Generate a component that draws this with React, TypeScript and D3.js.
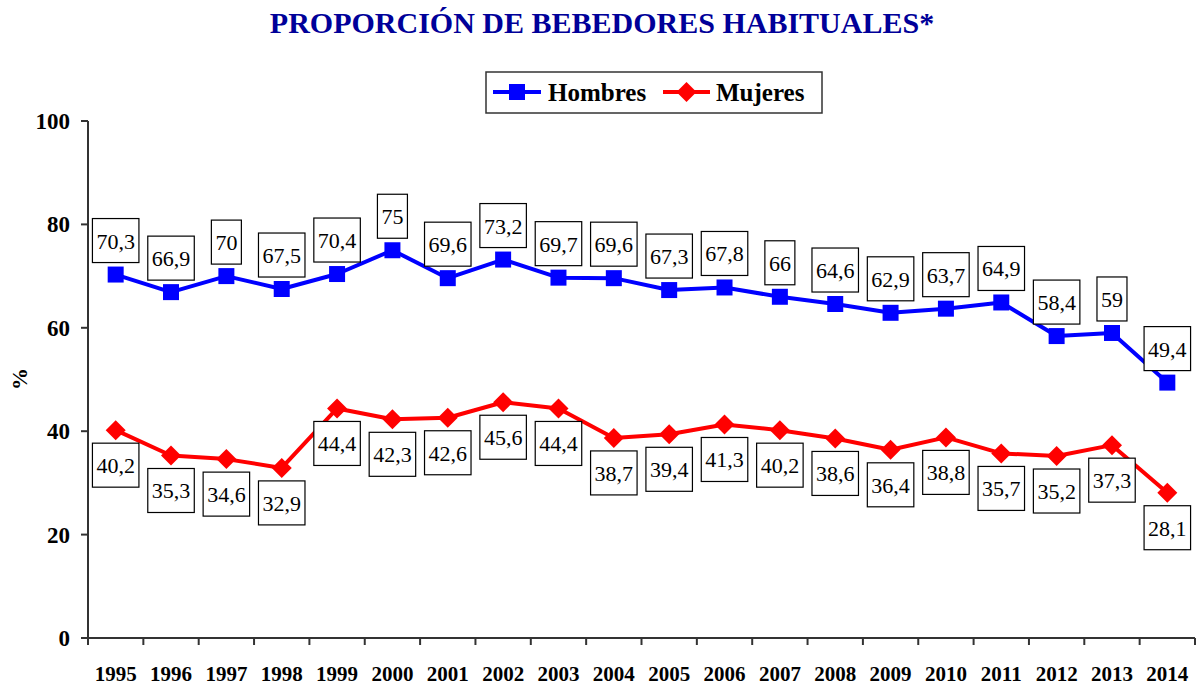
import React, { useEffect, useRef } from "react";
import * as d3 from "d3";

const years = ["1995", "1996", "1997", "1998", "1999", "2000", "2001", "2002", "2003", "2004", "2005", "2006", "2007", "2008", "2009", "2010", "2011", "2012", "2013", "2014"];
const hombres = [70.3, 66.9, 70, 67.5, 70.4, 75, 69.6, 73.2, 69.7, 69.6, 67.3, 67.8, 66, 64.6, 62.9, 63.7, 64.9, 58.4, 59, 49.4];
const mujeres = [40.2, 35.3, 34.6, 32.9, 44.4, 42.3, 42.6, 45.6, 44.4, 38.7, 39.4, 41.3, 40.2, 38.6, 36.4, 38.8, 35.7, 35.2, 37.3, 28.1];
const yTicks = [0, 20, 40, 60, 80, 100];

const fmt = (v: number) => String(v).replace(".", ",");

const App = () => {
  const svgRef = useRef<SVGSVGElement>(null);

  useEffect(() => {
    const width = 1198,
      height = 689;
    const svg = d3.select(svgRef.current).attr("width", width).attr("height", height);
    svg.selectAll("*").remove();

    const font = "'Liberation Serif', 'Times New Roman', serif";
    const axisColor = "#333";

    const x = d3.scaleBand().domain(years).range([88, 1195]);
    const y = d3.scaleLinear().domain([0, 100]).range([638, 121]);
    const cx = (i: number) => (x(years[i]) as number) + x.bandwidth() / 2;

    // title
    svg
      .append("text")
      .attr("x", 602)
      .attr("y", 33)
      .attr("text-anchor", "middle")
      .attr("font-family", font)
      .attr("font-weight", "bold")
      .attr("font-size", 30)
      .attr("fill", "#000099")
      .text("PROPORCIÓN DE BEBEDORES HABITUALES*");

    // y axis
    const ga = svg.append("g");
    ga.append("line")
      .attr("x1", 88).attr("x2", 88)
      .attr("y1", y(100)).attr("y2", y(0))
      .attr("stroke", axisColor).attr("stroke-width", 2);
    yTicks.forEach((t) => {
      ga.append("line")
        .attr("x1", 81).attr("x2", 88)
        .attr("y1", y(t)).attr("y2", y(t))
        .attr("stroke", axisColor).attr("stroke-width", 2);
      ga.append("text")
        .attr("x", 70)
        .attr("y", y(t) + 8)
        .attr("text-anchor", "end")
        .attr("font-family", font)
        .attr("font-weight", "bold")
        .attr("font-size", 23)
        .text(t);
    });
    svg
      .append("text")
      .attr("transform", `translate(27, 379) rotate(-90)`)
      .attr("text-anchor", "middle")
      .attr("font-family", font)
      .attr("font-weight", "bold")
      .attr("font-size", 22)
      .text("%");

    // x axis
    ga.append("line")
      .attr("x1", 88).attr("x2", 1195)
      .attr("y1", y(0)).attr("y2", y(0))
      .attr("stroke", axisColor).attr("stroke-width", 2);
    years.forEach((yr, i) => {
      const bx = x(yr) as number;
      ga.append("line")
        .attr("x1", bx + x.bandwidth()).attr("x2", bx + x.bandwidth())
        .attr("y1", y(0)).attr("y2", y(0) + 7)
        .attr("stroke", axisColor).attr("stroke-width", 2);
      ga.append("text")
        .attr("x", cx(i))
        .attr("y", 681)
        .attr("text-anchor", "middle")
        .attr("font-family", font)
        .attr("font-weight", "bold")
        .attr("font-size", 21)
        .text(yr);
    });
    ga.append("line")
      .attr("x1", 88).attr("x2", 88)
      .attr("y1", y(0)).attr("y2", y(0) + 7)
      .attr("stroke", axisColor).attr("stroke-width", 2);

    const series = [
      { name: "Hombres", values: hombres, color: "#0000FF", rot: 0, size: 256, above: true },
      { name: "Mujeres", values: mujeres, color: "#FF0000", rot: 45, size: 200, above: false },
    ];
    const marker = (size: number) => d3.symbol().type(d3.symbolSquare).size(size)();

    const line = d3
      .line<number>()
      .x((_, i) => cx(i))
      .y((d) => y(d));

    series.forEach((s) => {
      const g = svg.append("g");
      g.append("path")
        .attr("d", line(s.values))
        .attr("fill", "none")
        .attr("stroke", s.color)
        .attr("stroke-width", 4)
        .attr("stroke-linejoin", "round");
      s.values.forEach((v, i) => {
        g.append("path")
          .attr("d", marker(s.size))
          .attr("transform", `translate(${cx(i)}, ${y(v)}) rotate(${s.rot})`)
          .attr("fill", s.color);
      });
    });

    // labels
    series.forEach((s) => {
      const g = svg.append("g");
      s.values.forEach((v, i) => {
        const lg = g.append("g");
        const t = lg
          .append("text")
          .attr("x", cx(i))
          .attr("text-anchor", "middle")
          .attr("font-family", font)
          .attr("font-size", 22)
          .text(fmt(v));
        const w = (t.node() as SVGTextElement).getComputedTextLength() + 8;
        const h = 44;
        const top = s.above ? y(v) - 12 - h : y(v) + 13;
        t.attr("y", top + h / 2 + 8);
        lg.insert("rect", "text")
          .attr("x", cx(i) - w / 2)
          .attr("y", top)
          .attr("width", w)
          .attr("height", h)
          .attr("fill", "#fff")
          .attr("stroke", "#000")
          .attr("stroke-width", 1.2);
      });
    });

    // legend
    const lg = svg.append("g");
    lg.append("rect")
      .attr("x", 486).attr("y", 72)
      .attr("width", 336).attr("height", 41)
      .attr("fill", "#fff")
      .attr("stroke", axisColor)
      .attr("stroke-width", 1.5);
    const legendItems = [
      { s: series[0], x0: 493, x1: 541, tx: 548 },
      { s: series[1], x0: 663, x1: 710, tx: 716 },
    ];
    legendItems.forEach((it) => {
      lg.append("line")
        .attr("x1", it.x0).attr("x2", it.x1)
        .attr("y1", 92).attr("y2", 92)
        .attr("stroke", it.s.color)
        .attr("stroke-width", 4);
      lg.append("path")
        .attr("d", marker(it.s.size))
        .attr("transform", `translate(${(it.x0 + it.x1) / 2}, 92) rotate(${it.s.rot})`)
        .attr("fill", it.s.color);
      lg.append("text")
        .attr("x", it.tx)
        .attr("y", 101)
        .attr("font-family", font)
        .attr("font-weight", "bold")
        .attr("font-size", 25)
        .text(it.s.name);
    });
  }, []);

  return <svg ref={svgRef} style={{ position: "absolute", left: 0, top: 0 }}></svg>;
};

export default App;
